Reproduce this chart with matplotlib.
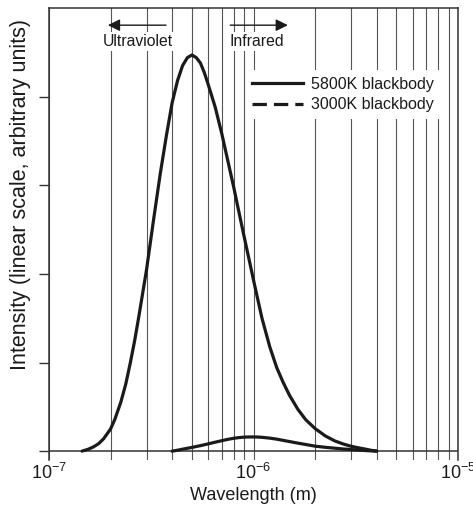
import numpy as np
import matplotlib
matplotlib.use("Agg")
import matplotlib.pyplot as plt
from matplotlib.lines import Line2D
from matplotlib.ticker import LogLocator, NullFormatter

plt.rcParams.update({"font.family": ["Liberation Sans", "DejaVu Sans"],
                     "mathtext.fontset": "custom",
                     "mathtext.rm": "Liberation Sans",
                     "mathtext.it": "Liberation Sans"})
INK, GRID = "#1a1a1a", "#555555"

# values (wavelength in m, intensity in arbitrary units)
wl_5800 = [1.45e-7, 1.55e-7, 1.65e-7, 1.75e-7, 1.85e-7, 2.0e-7, 2.1e-7, 2.25e-7,
           2.375e-7, 2.5e-7, 2.625e-7, 2.75e-7, 3.0e-7, 3.25e-7, 3.5e-7, 3.75e-7,
           4.0e-7, 4.25e-7, 4.5e-7, 4.75e-7, 5.0e-7, 5.25e-7, 5.5e-7, 5.75e-7,
           6.0e-7, 6.5e-7, 7.0e-7, 7.5e-7, 8.0e-7, 8.5e-7, 9.0e-7, 9.5e-7,
           1.0e-6, 1.1e-6, 1.2e-6, 1.3e-6, 1.4e-6, 1.5e-6, 1.65e-6, 1.8e-6,
           2.0e-6, 2.25e-6, 2.5e-6, 2.75e-6, 3.0e-6, 3.25e-6, 3.5e-6, 3.75e-6, 4.0e-6]
int_5800 = [0.0, 0.02, 0.048, 0.085, 0.14, 0.25, 0.36, 0.56,
            0.76, 1.0, 1.25, 1.52, 2.05, 2.62, 3.13, 3.56,
            3.93, 4.18, 4.35, 4.44, 4.47, 4.44, 4.38, 4.27,
            4.14, 3.88, 3.58, 3.27, 2.98, 2.69, 2.42, 2.17,
            1.93, 1.5, 1.18, 0.94, 0.77, 0.63, 0.47, 0.355,
            0.255, 0.17, 0.115, 0.08, 0.055, 0.038, 0.024, 0.01, 0.0]
wl_3000 = [4.0e-7, 4.25e-7, 4.5e-7, 5.0e-7, 5.5e-7, 6.0e-7, 6.5e-7, 7.0e-7,
           7.5e-7, 8.0e-7, 8.5e-7, 9.0e-7, 9.5e-7, 1.0e-6, 1.05e-6, 1.1e-6,
           1.2e-6, 1.3e-6, 1.4e-6, 1.5e-6, 1.65e-6, 1.8e-6, 2.0e-6, 2.25e-6,
           2.5e-6, 2.75e-6, 3.0e-6, 3.25e-6, 3.5e-6, 3.75e-6, 4.0e-6]
int_3000 = [0.0, 0.01, 0.022, 0.042, 0.062, 0.082, 0.101, 0.118,
            0.133, 0.145, 0.153, 0.158, 0.16, 0.16, 0.159, 0.156,
            0.147, 0.135, 0.121, 0.108, 0.09, 0.075, 0.056, 0.043,
            0.033, 0.024, 0.018, 0.012, 0.007, 0.003, 0.0]
labels = ["5800K blackbody", "3000K blackbody"]

fig = plt.figure(figsize=(4.73, 5.11), dpi=100)
ax = fig.add_axes([49/473, 51/511, 409/473, 452/511])
ax.set_xscale("log")
ax.set_xlim(1e-7, 1e-5); ax.set_ylim(-0.1, 5.0)

ax.xaxis.set_major_locator(LogLocator(base=10, numticks=5))
ax.xaxis.set_minor_locator(LogLocator(base=10, subs=np.arange(2, 10), numticks=20))
ax.xaxis.set_minor_formatter(NullFormatter())
ax.grid(True, which="both", axis="x", color=GRID, lw=0.8)
ax.tick_params(axis="x", which="both", length=0, pad=2, labelsize=13, colors=INK)
ax.set_yticks([0, 1, 2, 3, 4]); ax.set_yticklabels([])
ax.tick_params(axis="y", direction="out", length=7, width=1.0, color="#333333")
for side in ("left", "top", "right"):
    ax.spines[side].set_color("#333333"); ax.spines[side].set_linewidth(1.1)
ax.spines["bottom"].set_visible(False)
ax.axhline(0, color="#333333", lw=1.1, zorder=2)

ax.plot(wl_5800, int_5800, color=INK, lw=2.3, solid_capstyle="round",
        solid_joinstyle="round", zorder=3)
ax.plot(wl_3000, int_3000, color=INK, lw=2.3, solid_capstyle="round",
        solid_joinstyle="round", zorder=3)

ax.set_xlabel("Wavelength (m)", fontsize=13, color=INK, labelpad=3)
fig.text(21/473, 1 - 194/511, "Intensity (linear scale, arbitrary units)",
         rotation=90, ha="center", va="center", fontsize=15.5, color=INK)

# spectral region annotations
bb = dict(fc="white", ec="none", pad=1.5)
ax.text(0.218, 0.925, "Ultraviolet", transform=ax.transAxes, ha="center", va="center",
        fontsize=11.3, color=INK, bbox=bb, zorder=4)
ax.text(0.509, 0.925, "Infrared", transform=ax.transAxes, ha="center", va="center",
        fontsize=11.3, color=INK, bbox=bb, zorder=4)
arw = dict(arrowstyle="-|>", color=INK, lw=1.0, mutation_scale=18, shrinkA=0, shrinkB=0)
ax.annotate("", xy=(0.144, 0.962), xytext=(0.286, 0.962), xycoords="axes fraction",
            arrowprops=arw, zorder=4)
ax.annotate("", xy=(0.584, 0.962), xytext=(0.443, 0.962), xycoords="axes fraction",
            arrowprops=arw, zorder=4)

handles = [Line2D([], [], color=INK, lw=2.3),
           Line2D([], [], color=INK, lw=2.3, dashes=[4.5, 2.2])]
leg = ax.legend(handles, labels, loc="upper right", bbox_to_anchor=(0.975, 0.88),
                frameon=True, fontsize=11.5, handlelength=3.15, handletextpad=0.5,
                labelspacing=0.35, borderpad=0.4, fancybox=False)
leg.get_frame().set_facecolor("white"); leg.get_frame().set_edgecolor("none")
leg.get_frame().set_alpha(1.0)
for t in leg.get_texts(): t.set_color(INK)

fig.savefig("out.png", dpi=100)
